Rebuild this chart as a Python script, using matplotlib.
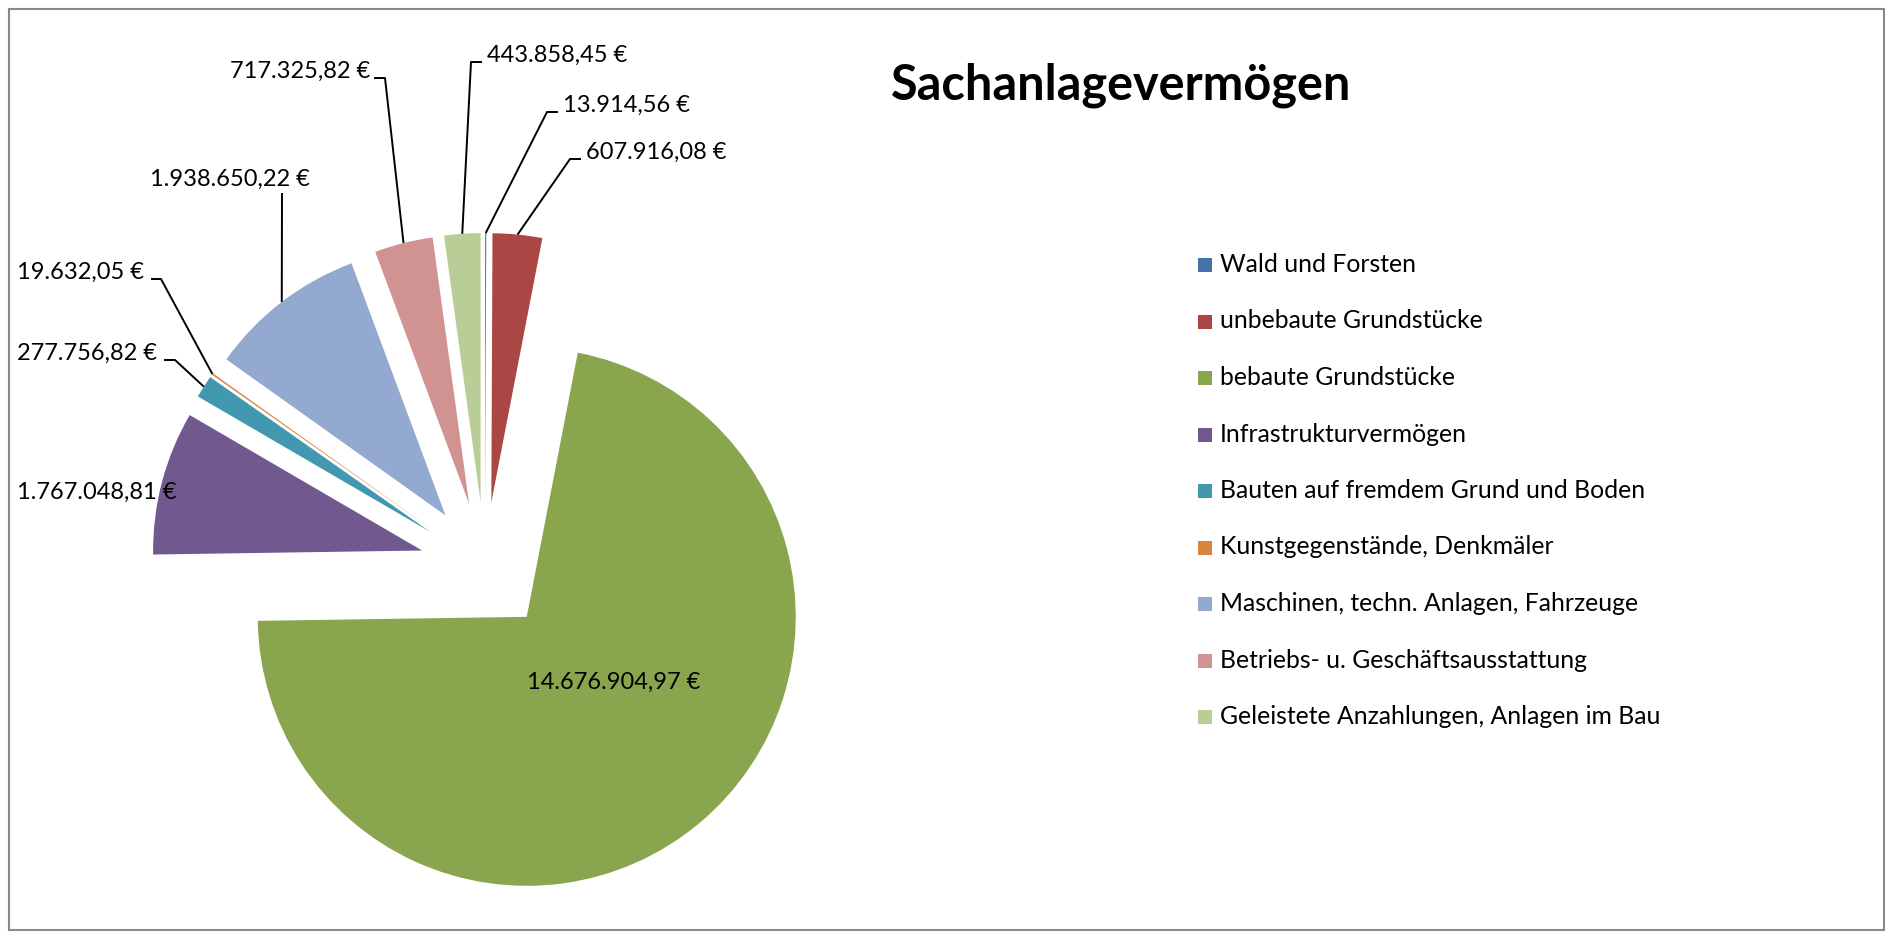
import matplotlib
matplotlib.use('Agg')
import matplotlib.pyplot as plt
from matplotlib.patches import Rectangle
import numpy as np

plt.rcParams['font.family'] = ['Lato', 'DejaVu Sans']

# data
categories = ['Wald und Forsten', 'unbebaute Grundstücke', 'bebaute Grundstücke',
              'Infrastrukturvermögen', 'Bauten auf fremdem Grund und Boden',
              'Kunstgegenstände, Denkmäler', 'Maschinen, techn. Anlagen, Fahrzeuge',
              'Betriebs- u. Geschäftsausstattung', 'Geleistete Anzahlungen, Anlagen im Bau']
values = [13914.56, 607916.08, 14676904.97, 1767048.81, 277756.82,
          19632.05, 1938650.22, 717325.82, 443858.45]
colors = ['#4572A7', '#AA4643', '#89A54E', '#71588F', '#4198AF',
          '#DB843D', '#93A9CF', '#D19392', '#B9CD96']
title = 'Sachanlagevermögen'

# layout (pixels, y from top)
W, H = 1890, 932
label_xy = [(563, 112), (586, 159), (527, 689), (17, 499), (17, 360),
            (17, 279), (150, 186), (230, 78), (487, 62)]
leaders = [[(558, 112), (547, 112)], [(581, 159), (570, 159)], None, None,
           [(164, 360), (175, 360)], [(151, 279), (161, 279)], [(282, 193)],
           [(374, 78), (385, 78)], [(482, 62), (471, 62)]]


def euro(v):
    s = f'{v:,.2f}'.replace(',', 'X').replace('.', ',').replace('X', '.')
    return s + ' €'


fig = plt.figure(figsize=(W / 100, H / 100), dpi=100)
ax = fig.add_axes([0, 0, 1, 1])
ax.set_xlim(0, W)
ax.set_ylim(H, 0)
ax.set_aspect('equal')
ax.axis('off')

# y axis is inverted: startangle -90 is the top, counterclock runs clockwise on screen
wedges, _ = ax.pie(values, colors=colors, center=(485, 567), radius=269,
                   explode=[65] * len(values), startangle=-90, counterclock=True,
                   wedgeprops=dict(linewidth=0))
ax.set_xlim(0, W)
ax.set_ylim(H, 0)

for i, w in enumerate(wedges):
    ax.text(label_xy[i][0], label_xy[i][1], euro(values[i]), fontsize=17,
            ha='left', va='baseline', color='black')
    if leaders[i] is None:
        continue
    t = np.deg2rad((w.theta1 + w.theta2) / 2)
    cx, cy = w.center
    end = (cx + w.r * np.cos(t), cy + w.r * np.sin(t))
    pts = leaders[i] + [end]
    ax.plot([p[0] for p in pts], [p[1] for p in pts], color='black', lw=1.4,
            solid_capstyle='butt')

ax.text(1121, 100, title, fontsize=35, fontweight='bold', ha='center', va='baseline')

# legend
for i, lab in enumerate(categories):
    yb = 272 + i * 56.5
    ax.add_patch(Rectangle((1198, yb - 14), 14, 14, facecolor=colors[i], edgecolor='none'))
    ax.text(1220, yb, lab, fontsize=17.8, ha='left', va='baseline')

# chart border
ax.add_patch(Rectangle((9, 9), 1875, 921, fill=False, edgecolor='#898989', lw=1.5))

fig.savefig('out.png', dpi=100)
